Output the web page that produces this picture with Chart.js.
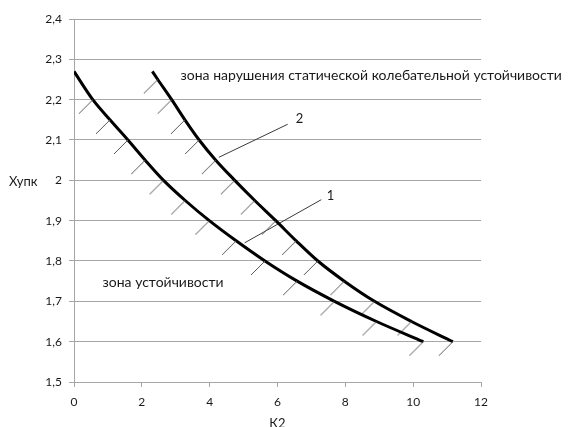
<!DOCTYPE html>
<html><head><meta charset="utf-8">
<script src="https://cdn.jsdelivr.net/npm/chart.js@4.4.0/dist/chart.umd.min.js"></script>
<style>html,body{margin:0;padding:0;background:#fff}#wrap{width:570px;height:427px}</style>
</head><body><div id="wrap"><canvas id="c" width="570" height="427"></canvas></div>
<script>
// Curve 1 (lower boundary) : K2 vs Xупк
const curve1K2 = [0, 0.555, 1.06, 1.59, 2.1, 2.64, 3.28, 3.99, 4.78, 5.63, 6.58, 7.68, 8.92, 10.3];
const curve1X  = [2.27, 2.2, 2.15, 2.1, 2.05, 2.0, 1.95, 1.9, 1.85, 1.8, 1.75, 1.7, 1.65, 1.6];
// Curve 2 (upper boundary)
const curve2K2 = [2.31, 2.47, 2.88, 3.27, 3.69, 4.18, 4.74, 5.33, 5.95, 6.55, 7.19, 7.97, 8.86, 9.95, 11.17];
const curve2X  = [2.27, 2.25, 2.2, 2.15, 2.1, 2.05, 2.0, 1.95, 1.9, 1.85, 1.8, 1.75, 1.7, 1.65, 1.6];
// Leader lines for labels "1" and "2"
const leader1K2 = [5.03, 7.29];
const leader1X  = [1.845, 1.952];
const leader2K2 = [4.27, 6.30];
const leader2X  = [2.057, 2.139];
// Text annotations (anchor at left / centre in data coordinates)
const labelTexts = ['1', '2', 'зона нарушения статической колебательной устойчивости', 'зона устойчивости'];
const labelK2    = [7.56, 6.65, 3.14, 0.84];
const labelX     = [1.962, 2.152, 2.259, 1.746];
// Axes
const xTickValues = [0, 2, 4, 6, 8, 10, 12];
const xTickLabels = ['0', '2', '4', '6', '8', '10', '12'];
const yTickValues = [1.5, 1.6, 1.7, 1.8, 1.9, 2.0, 2.1, 2.2, 2.3, 2.4];
const yTickLabels = ['1,5', '1,6', '1,7', '1,8', '1,9', '2', '2,1', '2,2', '2,3', '2,4'];
const xAxisTitle = 'К2';
const yAxisTitle = 'Хупк';

const toPts = (xs, ys) => xs.map((v, i) => ({x: v, y: ys[i]}));

// hatch marker: short stroke going down-left from the point
const hatch = document.createElement('canvas');
hatch.width = 32; hatch.height = 32;
(function(){
  const g = hatch.getContext('2d');
  g.strokeStyle = '#5a5a5a'; g.lineWidth = 1;
  g.beginPath(); g.moveTo(16, 16); g.lineTo(2, 30); g.stroke();
})();

const FONT = 'Lato, "Open Sans", sans-serif';
const gridCol = '#a6a6a6';

const textPlugin = {
  id: 'texts',
  afterDatasetsDraw(chart) {
    const ctx = chart.ctx, xs = chart.scales.x, ys = chart.scales.y;
    ctx.save();
    ctx.fillStyle = '#1a1a1a';
    ctx.textBaseline = 'middle';
    labelTexts.forEach((t, i) => {
      const px = xs.getPixelForValue(labelK2[i]);
      const py = ys.getPixelForValue(labelX[i]);
      ctx.font = (i < 2 ? '13px ' : '14px ') + FONT;
      ctx.textAlign = i < 2 ? 'center' : 'left';
      ctx.fillText(t, px, py);
    });
    ctx.font = '13px ' + FONT;
    ctx.textAlign = 'left';
    ctx.fillText(yAxisTitle, 9, ys.getPixelForValue(2.0) + 1);
    ctx.textAlign = 'center';
    ctx.textBaseline = 'top';
    ctx.fillText(xAxisTitle, (chart.chartArea.left + chart.chartArea.right) / 2, 417);
    ctx.restore();
  }
};

const curveStyle = (n) => ({
  borderColor: '#000', borderWidth: 3, fill: false,
  cubicInterpolationMode: 'monotone',
  pointStyle: hatch,
  pointRadius: Array.from({length: n}, (_, i) => i === 0 ? 0 : 3),
  pointHoverRadius: 0
});
const leaderStyle = {borderColor: '#3a3a3a', borderWidth: 1, pointRadius: 0, fill: false, tension: 0};

new Chart(document.getElementById('c'), {
  type: 'line',
  data: {
    datasets: [
      Object.assign({label: '1', data: toPts(curve1K2, curve1X)}, curveStyle(curve1K2.length)),
      Object.assign({label: '2', data: toPts(curve2K2, curve2X)}, curveStyle(curve2K2.length)),
      Object.assign({label: 'l1', data: toPts(leader1K2, leader1X)}, leaderStyle),
      Object.assign({label: 'l2', data: toPts(leader2K2, leader2X)}, leaderStyle)
    ]
  },
  options: {
    responsive: false, animation: false, events: [],
    layout: {padding: {top: 19, right: 89, left: 0, bottom: 0}},
    plugins: {legend: {display: false}, tooltip: {enabled: false}},
    scales: {
      x: {
        type: 'linear', min: 0, max: 12,
        afterBuildTicks: (s) => { s.ticks = xTickValues.map(v => ({value: v})); },
        afterFit: (s) => { s.height = 45; },
        grid: {drawOnChartArea: false, drawTicks: true, tickLength: 5, color: gridCol},
        border: {display: true, color: gridCol, width: 1},
        ticks: {
          padding: 8, color: '#1a1a1a', font: {family: FONT, size: 12},
          maxRotation: 0,
          callback: (v) => { const i = xTickValues.indexOf(v); return i >= 0 ? xTickLabels[i] : ''; }
        }
      },
      y: {
        type: 'linear', min: 1.5, max: 2.4,
        afterBuildTicks: (s) => { s.ticks = yTickValues.map(v => ({value: v})); },
        afterFit: (s) => { s.width = 74; },
        grid: {drawOnChartArea: true, drawTicks: true, tickLength: 5, color: gridCol},
        border: {display: true, color: gridCol, width: 1},
        ticks: {
          padding: 7, color: '#1a1a1a', font: {family: FONT, size: 12},
          callback: (v) => { const i = yTickValues.findIndex(t => Math.abs(t - v) < 1e-6); return i >= 0 ? yTickLabels[i] : ''; }
        }
      }
    }
  },
  plugins: [textPlugin]
});
</script></body></html>
